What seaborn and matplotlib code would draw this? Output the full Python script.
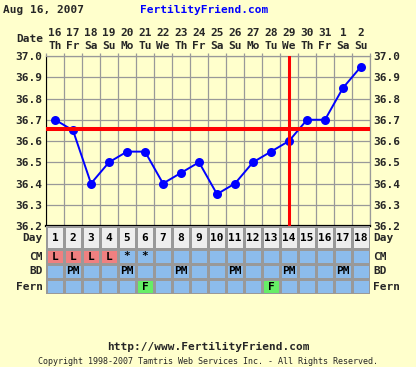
import numpy as np
import matplotlib
matplotlib.use("Agg")
import matplotlib.pyplot as plt
from matplotlib.colors import ListedColormap
import seaborn as sns

# chart data
days = list(range(1, 19))
date_nums = ['16', '17', '18', '19', '20', '21', '22', '23', '24', '25',
             '26', '27', '28', '29', '30', '31', '1', '2']
weekdays = ['Th', 'Fr', 'Sa', 'Su', 'Mo', 'Tu', 'We', 'Th', 'Fr', 'Sa',
            'Su', 'Mo', 'Tu', 'We', 'Th', 'Fr', 'Sa', 'Su']
temps = [36.70, 36.65, 36.40, 36.50, 36.55, 36.55, 36.40, 36.45, 36.50,
         36.35, 36.40, 36.50, 36.55, 36.60, 36.70, 36.70, 36.85, 36.95]
y_ticks = [36.2, 36.3, 36.4, 36.5, 36.6, 36.7, 36.8, 36.9, 37.0]
coverline = 36.655
ovulation_day = 14

cm_marks = ['L', 'L', 'L', 'L', '*', '*', '', '', '', '', '', '', '', '', '', '', '', '']
bd_marks = ['', 'PM', '', '', 'PM', '', '', 'PM', '', '', 'PM', '', '', 'PM', '', '', 'PM', '']
fern_marks = ['', '', '', '', '', 'F', '', '', '', '', '', '', 'F', '', '', '', '', '']
row_names = ['CM', 'BD', 'Fern']

BG = '#FFFFCC'
GRID = '#999999'
CELL_BLUE = '#8CBCEC'
CELL_PINK = '#F08080'
CELL_GREEN = '#66EE66'
DAY_GRAY = '#EEEEEE'

sns.set_style("white")
plt.rcParams['font.family'] = ['DejaVu Sans Mono']
FONT = dict(fontsize=8, fontweight='bold', family='DejaVu Sans Mono')

W, H = 416, 367


def box(l, t, r, b):
    return [l / W, 1 - b / H, (r - l) / W, (b - t) / H]


fig = plt.figure(figsize=(W / 100, H / 100), dpi=100, facecolor=BG)
ax = fig.add_axes(box(46, 56, 370, 226))
ax_day = fig.add_axes(box(46, 226, 370, 249))
ax_tab = fig.add_axes(box(46, 249, 370, 294))

# --- temperature chart ---
ax.set_facecolor(BG)
sns.lineplot(x=days, y=temps, ax=ax, color='#0000FF', marker='o',
             markersize=6.5, markeredgewidth=0, linewidth=1.4, zorder=3)
ax.axhline(coverline, color='#FF0000', linewidth=2.9, zorder=4)
ax.axvline(ovulation_day, color='#FF0000', linewidth=2.2, zorder=4)

ax.set_xlim(0.5, 18.5)
ax.set_ylim(36.2, 37.0)
ax.set_xticks([])
ax.set_xticks([d - 0.5 for d in days] + [18.5], minor=True)
ax.set_yticks(y_ticks)
ax.set_yticklabels([f'{v:.1f}' for v in y_ticks], **FONT)
ax.grid(True, which='major', axis='y', color=GRID, linewidth=0.9)
ax.grid(True, which='minor', axis='x', color=GRID, linewidth=0.9)
ax.set_axisbelow(True)
ax.tick_params(axis='y', length=0, pad=2.5, labelright=True, labelleft=True)
ax.tick_params(axis='x', which='minor', top=True, bottom=False, length=2.5,
               color=GRID, width=0.9, direction='out')
ax.set_xlabel('')
ax.set_ylabel('')
for side in ['top', 'right']:
    ax.spines[side].set_color(GRID)
    ax.spines[side].set_linewidth(0.9)
ax.spines['left'].set_color('black')
ax.spines['bottom'].set_color('black')
ax.spines['bottom'].set_linewidth(1.6)

# dates across the top
xt = ax.get_xaxis_transform()
for d, num, wd in zip(days, date_nums, weekdays):
    ax.text(d, 1 + 23 / 170, num, transform=xt, ha='center', va='center', **FONT)
    ax.text(d, 1 + 10 / 170, wd, transform=xt, ha='center', va='center', **FONT)
ax.text(0.5 - 3 / 18, 1 + 17 / 170, 'Date', transform=xt, ha='right', va='center', **FONT)

# --- day number row ---
sns.heatmap(np.zeros((1, 18)), ax=ax_day, cmap=ListedColormap([DAY_GRAY]),
            cbar=False, annot=np.array([[str(d) for d in days]]), fmt='',
            annot_kws=dict(color='black', **FONT), linewidths=0.9, linecolor=GRID,
            xticklabels=False, yticklabels=False)
ax_day.text(-0.17, 0.5, 'Day', ha='right', va='center', **FONT)
ax_day.text(18.17, 0.5, 'Day', ha='left', va='center', **FONT)

# --- CM / BD / Fern rows ---
marks = np.array([cm_marks, bd_marks, fern_marks])
codes = np.zeros(marks.shape)
codes[0] = [1 if m == 'L' else 0 for m in cm_marks]
codes[2] = [2 if m == 'F' else 0 for m in fern_marks]
sns.heatmap(codes, ax=ax_tab, cmap=ListedColormap([CELL_BLUE, CELL_PINK, CELL_GREEN]),
            vmin=-0.5, vmax=2.5, cbar=False, annot=marks, fmt='',
            annot_kws=dict(color='black', **FONT), linewidths=0.9, linecolor=GRID,
            xticklabels=False, yticklabels=False)
for i, name in enumerate(row_names):
    ax_tab.text(-0.17, i + 0.5, name, ha='right', va='center', **FONT)
    ax_tab.text(18.17, i + 0.5, name, ha='left', va='center', **FONT)

# --- header and footer ---
fig.text(3 / W, 1 - 10 / H, 'Aug 16, 2007', ha='left', va='center', **FONT)
fig.text(140 / W, 1 - 10 / H, 'FertilityFriend.com', ha='left', va='center',
         color='#0000FF', **FONT)
fig.text(208 / W, 1 - 347 / H, 'http://www.FertilityFriend.com', ha='center',
         va='center', **FONT)
fig.text(208 / W, 1 - 362 / H,
         'Copyright 1998-2007 Tamtris Web Services Inc. - All Rights Reserved.',
         ha='center', va='center', fontsize=6, family='DejaVu Sans Mono')

fig.savefig('out.png', dpi=100, facecolor=BG)
